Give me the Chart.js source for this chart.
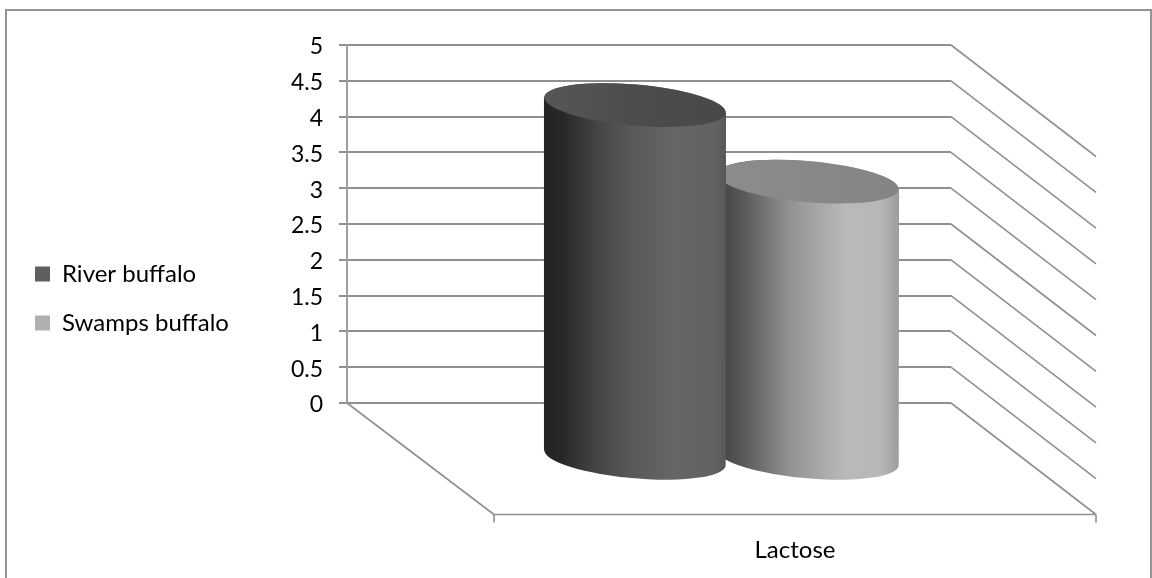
<!DOCTYPE html>
<html>
<head>
<meta charset="utf-8">
<script src="https://cdn.jsdelivr.net/npm/chart.js@4"></script>
<style>
    html, body { margin: 0; padding: 0; background: #fff; overflow: hidden; }
    #frame { position: absolute; left: 5px; top: 9px; width: 1143px; height: 600px; border: 2px solid #949494; }
    #chart { position: absolute; left: 0; top: 0; }
</style>
</head>
<body>
<div id="frame"></div>
<canvas id="chart" width="1152" height="578"></canvas>
<script>
const categories = ['Lactose'];
const riverValues = [4.94];
const swampValues = [3.87];

const FONT = 'Lato, "Open Sans", sans-serif';
const LINE = '#909090';

// how far the floor comes forward from the back wall
const DEPTH_X = 145;
const DEPTH_Y = 111.5;
const PAD_LEFT = 10;

// shading per dataset, left to right
const bodyStops = [
    [[0, '#242424'], [0.1, '#272727'], [0.3, '#464646'], [0.5, '#5a5a5a'], [0.72, '#666666'], [0.95, '#616161'], [1, '#565656']],
    [[0, '#444444'], [0.05, '#484848'], [0.14, '#585858'], [0.4, '#929292'], [0.7, '#b9b9b9'], [0.9, '#b8b8b8'], [1, '#9c9c9c']]
];
const lidStops = [
    [[0, '#575757'], [0.5, '#4c4c4c'], [1, '#484848']],
    [[0, '#8c8c8c'], [1, '#848484']]
];

function makeGradient(ctx, x0, x1, stops) {
    let g = ctx.createLinearGradient(x0, 0, x1, 0);
    stops.forEach(s => g.addColorStop(s[0], s[1]));
    return g;
}

// 3d walls and floor, goes on top of the normal grid
const wallsPlugin = {
    id: 'walls',
    afterLayout(chart) {
        // legend sits a bit above the middle of the canvas
        chart.legend.top -= 13;
        chart.legend.bottom -= 13;
    },
    beforeDatasetsDraw(chart) {
        const ctx = chart.ctx;
        const y = chart.scales.y;
        const a = chart.chartArea;
        const floorY = y.getPixelForValue(0);

        ctx.save();
        ctx.strokeStyle = LINE;
        ctx.lineWidth = 1.6;
        ctx.beginPath();
        y.ticks.forEach(t => {
            let py = y.getPixelForValue(t.value);
            ctx.moveTo(a.right, py);
            ctx.lineTo(a.right + DEPTH_X, py + DEPTH_Y);
        });
        ctx.moveTo(a.left, floorY);
        ctx.lineTo(a.left + DEPTH_X + 2, floorY + DEPTH_Y);
        ctx.moveTo(a.left + DEPTH_X + 2, floorY + DEPTH_Y);
        ctx.lineTo(a.right + DEPTH_X, floorY + DEPTH_Y);
        ctx.moveTo(a.left + DEPTH_X + 2, floorY + DEPTH_Y);
        ctx.lineTo(a.left + DEPTH_X + 2, floorY + DEPTH_Y + 8);
        ctx.moveTo(a.right + DEPTH_X, floorY + DEPTH_Y);
        ctx.lineTo(a.right + DEPTH_X, floorY + DEPTH_Y + 8);
        ctx.stroke();
        ctx.restore();
    },
    // bars are replaced by cylinders
    beforeDatasetDraw(chart, args) {
        const ctx = chart.ctx;
        const i = args.index;
        args.meta.data.forEach(bar => {
            const cx = bar.x + DEPTH_X / 2;
            const topY = bar.y + DEPTH_Y / 2;
            const baseY = bar.base + DEPTH_Y / 2;
            const rx = bar.width / 2;
            const ry = rx * 0.2256;
            const tilt = 0.0866;
            const t0 = Math.atan(-(ry / rx) * Math.tan(tilt));
            const slant = rx * Math.cos(t0) * Math.sin(tilt) + ry * Math.sin(t0) * Math.cos(tilt);
            const x0 = cx - rx;
            const x1 = cx + rx;

            ctx.save();
            ctx.fillStyle = makeGradient(ctx, x0, x1, bodyStops[i]);
            ctx.beginPath();
            ctx.moveTo(x0, topY - slant);
            ctx.lineTo(x0, baseY - slant);
            ctx.ellipse(cx, baseY, rx, ry, tilt, t0 + Math.PI, t0, true);
            ctx.lineTo(x1, topY + slant);
            ctx.ellipse(cx, topY, rx, ry, tilt, t0, t0 + Math.PI, true);
            ctx.closePath();
            ctx.fill();

            ctx.fillStyle = makeGradient(ctx, x0, x1, lidStops[i]);
            ctx.beginPath();
            ctx.ellipse(cx, topY, rx, ry, tilt, 0, Math.PI * 2);
            ctx.fill();
            ctx.restore();
        });
        return false;
    }
};

new Chart(document.getElementById('chart'), {
    type: 'bar',
    data: {
        labels: categories,
        datasets: [
            { label: 'River buffalo', data: riverValues, backgroundColor: '#5f5f5f', borderWidth: 0 },
            { label: 'Swamps buffalo', data: swampValues, backgroundColor: '#b0b0b0', borderWidth: 0 }
        ]
    },
    plugins: [wallsPlugin],
    options: {
        responsive: false,
        animation: false,
        categoryPercentage: 0.573,
        barPercentage: 1.052,
        layout: { padding: { left: PAD_LEFT, top: 45, right: 201, bottom: 0 } },
        plugins: {
            tooltip: { enabled: false },
            legend: {
                position: 'left',
                labels: {
                    boxWidth: 15,
                    boxHeight: 15,
                    padding: 25,
                    color: '#000',
                    font: { family: FONT, size: 24 }
                }
            }
        },
        scales: {
            x: {
                grid: { display: false },
                border: { display: false },
                ticks: {
                    color: '#000',
                    font: { family: FONT, size: 24 },
                    padding: 125,
                    labelOffset: 146,
                    maxRotation: 0,
                    autoSkip: false
                },
                afterFit(scale) { scale.height = 175; }
            },
            y: {
                min: 0,
                max: 5,
                grid: { color: LINE, lineWidth: 2, tickLength: 8 },
                border: { color: '#a0a0a0', width: 2 },
                ticks: {
                    stepSize: 0.5,
                    color: '#000',
                    padding: 16,
                    labelOffset: 2,
                    font: { family: FONT, size: 23 },
                    callback: v => String(v)
                },
                afterFit(scale) {
                    scale.width = 347 - scale.chart.legend.width - PAD_LEFT;
                }
            }
        }
    }
});
</script>
</body>
</html>
